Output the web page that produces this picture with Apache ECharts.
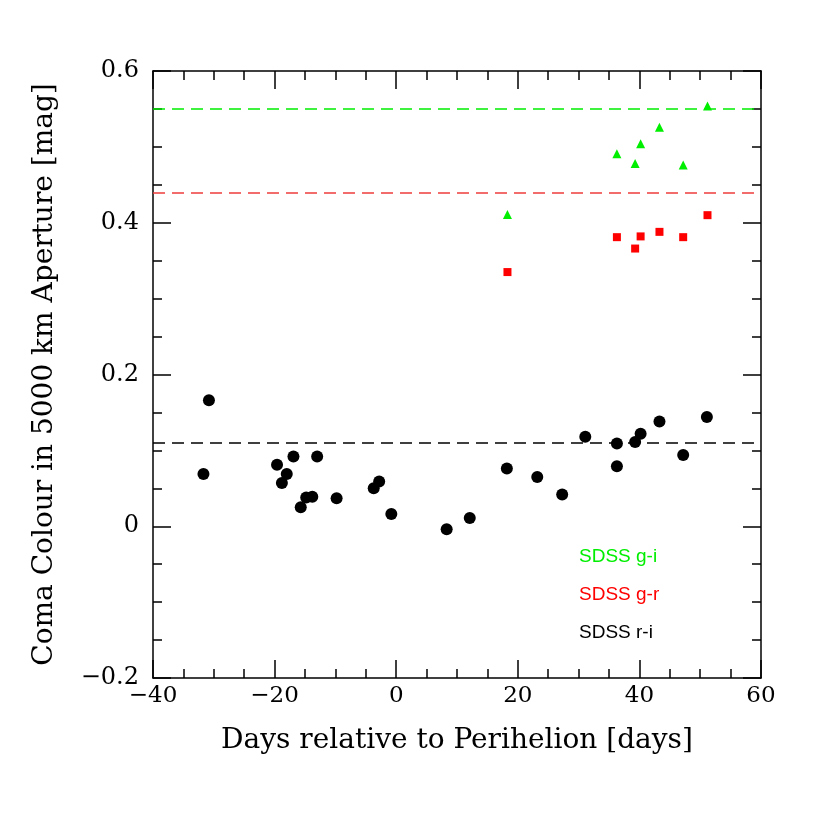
<!DOCTYPE html>
<html>
<head>
<meta charset="utf-8">
<script src="https://cdn.jsdelivr.net/npm/echarts@6/dist/echarts.min.js"></script>
<style>
  html, body { margin: 0; padding: 0; background: #fff; }
  #chart { width: 830px; height: 830px; }
</style>
</head>
<body>
<div id="chart"></div>
<script>
// SDSS r-i (black circles)
var daysRI = [-31.7, -30.8, -19.6, -18.8, -18.0, -16.9, -15.7, -14.8, -13.8, -13.0, -9.8, -3.7, -2.8, -0.8,
  8.3, 12.1, 18.2, 23.2, 27.3, 31.1, 36.3, 36.3, 39.3, 40.2, 43.3, 47.2, 51.1];
var colourRI = [0.069, 0.166, 0.081, 0.057, 0.069, 0.092, 0.025, 0.038, 0.039, 0.092, 0.037, 0.050, 0.059, 0.016,
  -0.004, 0.011, 0.076, 0.065, 0.042, 0.118, 0.109, 0.079, 0.111, 0.122, 0.138, 0.094, 0.144];
// SDSS g-r (red squares)
var daysGR = [18.3, 36.3, 39.3, 40.2, 43.3, 47.2, 51.2];
var colourGR = [0.335, 0.381, 0.366, 0.382, 0.388, 0.381, 0.410];
// SDSS g-i (green triangles)
var daysGI = [18.3, 36.3, 39.3, 40.2, 43.3, 47.2, 51.2];
var colourGI = [0.411, 0.491, 0.478, 0.504, 0.526, 0.476, 0.554];
// solar colour reference lines
var refGI = 0.55, refGR = 0.44, refRI = 0.11;

var legendNames = ['SDSS g-i', 'SDSS g-r', 'SDSS r-i'];
var legendColors = ['#00ee00', '#ff0000', '#000000'];

function pairs(xs, ys) {
  return xs.map(function (x, i) { return [x, ys[i]]; });
}
function minus(s) { return String(s).replace('-', '\u2212'); }

var axisFont = 'DejaVu Serif';
var lineStyle = { color: '#000', width: 1.5 };

function xAxisCfg(pos, labels) {
  return {
    type: 'value', position: pos, min: -40, max: 60, interval: 20,
    axisLine: { show: true, onZero: false, lineStyle: lineStyle },
    axisTick: { show: true, inside: true, length: 18, lineStyle: lineStyle },
    minorTick: { show: true, splitNumber: 4, length: 9, lineStyle: lineStyle },
    splitLine: { show: false },
    axisLabel: {
      show: labels, margin: 7, color: '#000', fontFamily: axisFont, fontSize: 23,
      formatter: function (v) { return minus(v); }
    }
  };
}
function yAxisCfg(pos, labels) {
  return {
    type: 'value', position: pos, min: -0.2, max: 0.6, interval: 0.2,
    axisLine: { show: true, onZero: false, lineStyle: lineStyle },
    axisTick: { show: true, inside: true, length: 18, lineStyle: lineStyle },
    minorTick: { show: true, splitNumber: 4, length: 9, lineStyle: lineStyle },
    splitLine: { show: false },
    axisLabel: {
      show: labels, margin: 14, color: '#000', fontFamily: axisFont, fontSize: 24,
      formatter: function (v) { return Math.abs(v) < 1e-9 ? '0' : minus(v.toFixed(1)); }
    }
  };
}

var xBottom = xAxisCfg('bottom', true);
xBottom.name = 'Days relative to Perihelion [days]';
xBottom.nameLocation = 'middle';
xBottom.nameGap = 49;
xBottom.nameTextStyle = { color: '#000', fontFamily: axisFont, fontSize: 28 };

var yLeft = yAxisCfg('left', true);
yLeft.name = 'Coma Colour in 5000 km Aperture [mag]';
yLeft.nameLocation = 'middle';
yLeft.nameGap = 94;
yLeft.nameTextStyle = { color: '#000', fontFamily: axisFont, fontSize: 28 };

function refLine(val, color) {
  return {
    silent: true, symbol: 'none', label: { show: false },
    lineStyle: { color: color, type: [12, 7], width: 1.5 },
    data: [{ yAxis: val }]
  };
}

var chart = echarts.init(document.getElementById('chart'));
chart.setOption({
  animation: false,
  backgroundColor: '#fff',
  grid: { left: 153, right: 69, top: 71, bottom: 152 },
  xAxis: [xBottom, xAxisCfg('top', false)],
  yAxis: [yLeft, yAxisCfg('right', false)],
  series: [
    {
      name: 'SDSS r-i', type: 'scatter', symbol: 'circle', symbolSize: 12,
      itemStyle: { color: '#000', opacity: 1 },
      data: pairs(daysRI, colourRI),
      markLine: refLine(refRI, '#000')
    },
    {
      name: 'SDSS g-r', type: 'scatter', symbol: 'rect', symbolSize: 8,
      itemStyle: { color: '#ff0000', opacity: 1 },
      data: pairs(daysGR, colourGR),
      markLine: refLine(refGR, '#f03c3c')
    },
    {
      name: 'SDSS g-i', type: 'scatter', symbol: 'triangle', symbolSize: 9,
      itemStyle: { color: '#00ee00', opacity: 1 },
      data: pairs(daysGI, colourGI),
      markLine: refLine(refGI, '#00ee00')
    }
  ],
  graphic: legendNames.map(function (name, i) {
    return {
      type: 'text', left: 579, top: [547, 585, 623][i],
      style: { text: name, fill: legendColors[i], font: '19px "Liberation Sans", Arial, sans-serif' }
    };
  })
});
</script>
</body>
</html>
